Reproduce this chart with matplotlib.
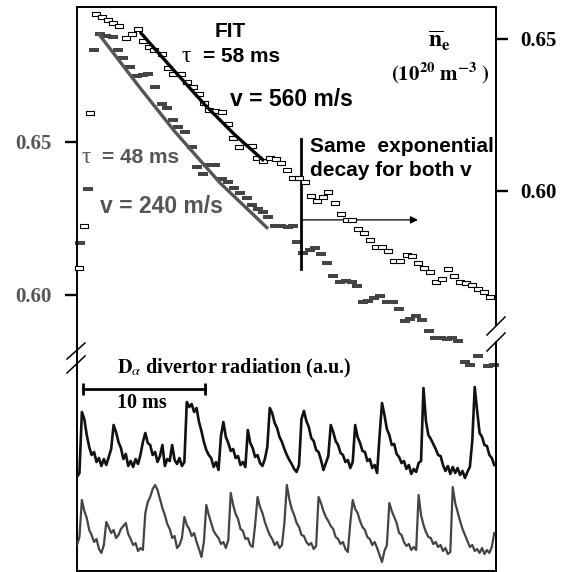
import numpy as np
import matplotlib
matplotlib.use("Agg")
import matplotlib.pyplot as plt
from matplotlib.lines import Line2D
from matplotlib.path import Path


# tempo em ms; densidade em 1e20 m^-3
t_aberto = [0.16, 0.57, 1.07, 1.56, 2.05, 2.54, 2.95, 3.44, 4.02, 4.51,
            5.00, 5.41, 5.90, 6.31, 6.97, 7.46, 7.87, 8.52, 9.02, 9.51,
            10.00, 10.41, 10.82, 11.31, 11.89, 12.38, 12.79, 13.28, 14.34, 14.75,
            15.25, 15.82, 16.31, 16.72, 17.21, 17.70, 18.20, 18.69, 19.18, 19.67,
            20.16, 20.57, 21.15, 21.64, 22.13, 22.54, 23.03, 23.52, 24.02, 24.51,
            25.00, 25.49, 25.98, 26.48, 27.05, 27.46, 27.95, 28.44, 28.93, 29.43,
            29.92, 30.41, 30.90, 31.39, 31.89, 32.38, 32.87, 33.36, 33.85]
ne_aberto = [0.5747, 0.5885, 0.6257, 0.6582, 0.6572, 0.6563, 0.6553, 0.6543, 0.6503, 0.6516,
             0.6533, 0.6493, 0.6474, 0.6464, 0.6451, 0.6405, 0.6385, 0.6385, 0.6359, 0.6342,
             0.6319, 0.6289, 0.6266, 0.6263, 0.6260, 0.6220, 0.6174, 0.6145, 0.6148, 0.6109,
             0.6099, 0.6109, 0.6105, 0.6092, 0.6069, 0.6043, 0.6043, 0.6030, 0.5983, 0.5967,
             0.5980, 0.5997, 0.5960, 0.5924, 0.5904, 0.5904, 0.5875, 0.5862, 0.5839, 0.5816,
             0.5816, 0.5803, 0.5770, 0.5770, 0.5789, 0.5786, 0.5763, 0.5747, 0.5733, 0.5701,
             0.5710, 0.5743, 0.5720, 0.5701, 0.5697, 0.5691, 0.5678, 0.5668, 0.5651]

t_cheio = [0.25, 0.90, 1.39, 1.89, 2.38, 2.95, 3.36, 3.77, 4.34, 4.92,
           5.41, 5.82, 6.39, 6.97, 7.38, 7.87, 8.28, 8.85, 9.43, 9.84,
           10.33, 10.74, 11.31, 11.89, 12.38, 12.87, 13.36, 13.93, 14.34, 14.84,
           15.25, 15.66, 16.23, 16.72, 17.30, 17.70, 18.03, 18.52, 19.10, 19.51,
           20.00, 20.49, 20.98, 21.56, 22.05, 22.54, 22.95, 23.44, 23.85, 24.34,
           24.84, 25.41, 25.90, 26.39, 26.89, 27.30, 27.79, 28.28, 28.85, 29.34,
           29.84, 30.33, 30.74, 31.23, 31.80, 32.21, 32.87, 33.69, 34.18]
ne_cheio = [0.6170, 0.6346, 0.6801, 0.6853, 0.6847, 0.6843, 0.6801, 0.6775, 0.6745, 0.6716,
            0.6719, 0.6722, 0.6680, 0.6624, 0.6611, 0.6572, 0.6549, 0.6533, 0.6484, 0.6418,
            0.6395, 0.6425, 0.6425, 0.6379, 0.6369, 0.6350, 0.6333, 0.6317, 0.6294, 0.6281,
            0.6271, 0.6255, 0.6225, 0.6225, 0.6222, 0.6225, 0.6173, 0.6137, 0.6147, 0.6153,
            0.6134, 0.6104, 0.6062, 0.6042, 0.6045, 0.6042, 0.6029, 0.5977, 0.5980, 0.5990,
            0.5996, 0.5977, 0.5977, 0.5954, 0.5915, 0.5921, 0.5931, 0.5918, 0.5882, 0.5859,
            0.5859, 0.5856, 0.5859, 0.5849, 0.5781, 0.5771, 0.5800, 0.5768, 0.5771]

# ajustes
t_fit_preto = [5.16, 7.62, 10.49, 12.95, 15.33]
ne_fit_preto = [0.6523, 0.6411, 0.6283, 0.6184, 0.6099]
t_fit_cinza = [1.72, 5.16, 8.03, 11.72, 15.66]
ne_fit_cinza = [0.6856, 0.6677, 0.6533, 0.6366, 0.6216]

# D-alpha (u.a.), amostras a cada 0.2 ms
DT_DALPHA = 0.2
dalpha_sup = [9.4, 9.8, 15.9, 15.2, 13.6, 12.4, 11.6, 11.9, 10.9, 11.3,
              10.5, 11.2, 10.6, 11.4, 12.2, 14.6, 13.9, 12.9, 12.3, 11.2,
              11.7, 10.5, 11.0, 10.4, 11.2, 10.7, 11.6, 12.9, 13.8, 12.8,
              12.6, 11.6, 11.9, 10.9, 11.5, 12.6, 10.5, 11.2, 11.0, 12.6,
              11.1, 10.7, 11.3, 10.5, 10.9, 16.9, 16.4, 16.7, 15.9, 16.3,
              14.9, 14.0, 12.9, 12.1, 11.6, 11.3, 10.4, 10.9, 10.1, 13.5,
              14.9, 13.4, 12.8, 12.0, 12.2, 11.3, 11.5, 10.6, 10.9, 10.4,
              14.1, 12.8, 12.3, 11.4, 11.6, 10.8, 10.5, 11.2, 12.4, 16.3,
              15.8, 14.8, 14.3, 13.4, 12.9, 12.2, 11.6, 11.1, 10.7, 10.2,
              9.9, 10.6, 15.2, 16.0, 15.0, 14.4, 13.3, 13.0, 12.1, 11.9,
              11.1, 10.1, 10.8, 11.5, 14.6, 13.9, 13.0, 12.6, 11.8, 11.6,
              10.9, 11.1, 10.3, 10.9, 14.6, 13.4, 12.8, 12.0, 11.9, 11.0,
              11.2, 10.3, 10.6, 9.8, 13.5, 16.8, 15.6, 14.2, 13.6, 12.6,
              12.7, 11.7, 11.4, 10.8, 11.0, 10.2, 10.6, 9.7, 10.2, 9.9,
              10.8, 11.0, 18.3, 15.0, 13.6, 13.2, 12.7, 12.2, 11.6, 11.5,
              10.6, 10.0, 10.5, 9.7, 10.4, 9.8, 10.3, 9.6, 10.0, 9.3,
              9.9, 10.4, 13.0, 18.4, 16.0, 13.8, 13.4, 12.6, 12.5, 11.6,
              11.3, 10.6]
dalpha_inf = [2.6, 3.4, 7.1, 6.0, 5.3, 4.1, 3.6, 2.9, 3.2, 2.2,
              1.8, 2.6, 4.9, 4.4, 3.8, 4.1, 3.3, 3.6, 4.2, 4.5,
              4.8, 3.7, 3.2, 2.6, 2.8, 2.0, 2.3, 2.1, 5.8, 6.9,
              7.4, 8.2, 8.6, 8.1, 7.2, 6.3, 5.6, 4.7, 4.2, 3.3,
              3.5, 2.3, 2.6, 3.3, 5.4, 4.6, 4.2, 3.5, 3.8, 2.9,
              2.2, 1.4, 2.9, 6.6, 5.6, 4.8, 4.0, 3.6, 3.3, 2.7,
              2.9, 2.3, 3.1, 7.8, 6.6, 5.7, 5.2, 4.2, 4.0, 3.2,
              3.3, 2.6, 2.4, 4.6, 7.4, 6.4, 5.8, 4.9, 4.2, 3.6,
              3.2, 2.6, 2.9, 2.3, 2.6, 4.8, 8.6, 7.2, 6.2, 5.6,
              4.8, 4.4, 3.6, 3.5, 2.9, 2.6, 2.8, 2.2, 2.5, 7.4,
              6.8, 6.0, 5.4, 5.0, 4.5, 4.2, 3.4, 3.2, 2.7, 2.9,
              2.2, 1.9, 4.8, 7.1, 6.2, 5.8, 5.0, 4.4, 4.1, 3.4,
              3.2, 2.6, 2.9, 2.3, 1.6, 0.9, 2.0, 2.6, 6.8, 6.0,
              5.4, 4.8, 3.8, 3.6, 2.9, 2.5, 2.7, 2.1, 2.4, 2.1,
              7.6, 5.6, 4.6, 3.9, 3.4, 3.3, 2.7, 2.9, 2.4, 2.6,
              2.0, 2.3, 1.7, 1.9, 8.4, 6.8, 5.9, 5.0, 4.2, 3.6,
              3.0, 2.4, 2.6, 2.0, 2.2, 1.8, 2.3, 1.7, 2.1, 1.8,
              2.4, 3.8]

ticks_esq = [0.60, 0.65]
ticks_dir = [0.60, 0.65]

T_CORTE = 18.34        # linha vertical "Same exponential decay"
T_SETA_FIM = 27.95
NE_SETA = 0.6245
BARRA_10MS = (0.49, 10.49)

CINZA = "#555555"
CINZA_PONTO = "#444444"
SERIF = "Liberation Serif"
SANS = "Liberation Sans"

W, H = 570, 572


def px(x, y):
    return x / W, 1 - y / H


def main() -> None:
    plt.rcParams["mathtext.fontset"] = "stix"
    fig = plt.figure(figsize=(W / 100, H / 100), dpi=100)

    x0, x1, y0, y1 = 77, 496, 7, 571
    pos = [x0 / W, 1 - y1 / H, (x1 - x0) / W, (y1 - y0) / H]
    ax = fig.add_axes(pos)
    ax_r = ax.twinx()
    ax_d = fig.add_axes(pos, frameon=False)

    tmax = (x1 - x0) / 12.2
    for a in (ax, ax_r, ax_d):
        a.set_xlim(0, tmax)
        a.set_xticks([])
    ax.set_ylim(0.5097, 0.6941)
    ax_r.set_ylim(0.475, 0.6605)
    ax_d.set_ylim(0, 56.4)
    ax_d.set_yticks([])

    ret_aberto = Path([(-1, -0.5), (1, -0.5), (1, 0.5), (-1, 0.5), (-1, -0.5)], closed=True)
    ret_cheio = Path([(-1, -0.4), (1, -0.4), (1, 0.4), (-1, 0.4), (-1, -0.4)], closed=True)

    ax.plot(t_cheio, ne_cheio, ls="none", marker=ret_cheio, ms=7.2,
            color=CINZA_PONTO, mew=0, clip_on=False)
    ax.plot(t_fit_cinza, ne_fit_cinza, color=CINZA, lw=2.4, solid_capstyle="butt")

    ax_r.plot(t_aberto, ne_aberto, ls="none", marker=ret_aberto, ms=6.2,
              mfc="white", mec="black", mew=0.8, clip_on=False)
    ax_r.plot(t_fit_preto, ne_fit_preto, color="black", lw=2.4, solid_capstyle="butt")

    # linha vertical e seta
    ax.plot([T_CORTE, T_CORTE], [0.6085, 0.651], color="black", lw=2)
    ax.annotate("", xy=(T_SETA_FIM, NE_SETA), xytext=(T_CORTE + 0.18, NE_SETA),
                arrowprops=dict(arrowstyle="-|>", color="black", lw=0.9,
                                mutation_scale=11, shrinkA=0, shrinkB=0))

    # D-alpha
    t_d = np.arange(len(dalpha_sup)) * DT_DALPHA
    ax_d.plot(t_d, dalpha_sup, color="#111111", lw=1.9)
    t_d2 = np.arange(len(dalpha_inf)) * DT_DALPHA
    ax_d.plot(t_d2, dalpha_inf, color="#444444", lw=1.6)
    ax_d.plot(list(BARRA_10MS), [18.2, 18.2], color="black", lw=2,
              marker="|", ms=9, mew=2)

    # eixos
    ax.set_yticks(ticks_esq)
    ax.set_yticklabels([f"{v:.2f}" for v in ticks_esq], fontfamily=SERIF,
                       fontweight="bold", fontsize=15, color=CINZA)
    ax.tick_params(axis="y", direction="out", length=9, width=1.7, pad=9,
                   color="black")
    ax_r.set_yticks(ticks_dir)
    ax_r.set_yticklabels([f"{v:.2f}" for v in ticks_dir], fontfamily=SERIF,
                         fontweight="bold", fontsize=15, color="black")
    ax_r.tick_params(axis="y", direction="out", length=8.5, width=1.7, pad=9,
                     color="black")
    for s in ("left", "top", "bottom"):
        ax.spines[s].set_linewidth(1.4)
    ax.spines["right"].set_visible(False)
    for s in ax_r.spines.values():
        s.set_visible(False)
    # eixo direito quebrado
    ax.plot([1, 1], [0, 0.406], transform=ax.transAxes, color="black",
            lw=1.4, clip_on=False)
    ax.plot([1, 1], [0.436, 1], transform=ax.transAxes, color="black",
            lw=1.4, clip_on=False)
    for (xa, ya, xb, yb) in [(67, 359, 85, 343), (67, 373, 85, 356),
                             (487, 335, 505, 317), (487, 351, 505, 333)]:
        (fa, ga), (fb, gb) = px(xa, ya), px(xb, yb)
        fig.add_artist(Line2D([fa, fb], [ga, gb], transform=fig.transFigure,
                              color="black", lw=1.1))

    # textos
    def texto(x, y, s, **kw):
        fx, fy = px(x, y)
        fig.text(fx, fy, s, ha="left", va="baseline", **kw)

    texto(215, 37, "FIT", family=SANS, weight="bold", size=15)
    texto(182, 62, "τ", family=SERIF, size=17)
    texto(203, 62, "= 58 ms", family=SANS, weight="bold", size=15)
    texto(230, 106, "v = 560 m/s", family=SANS, weight="bold", size=16.5)
    texto(82, 163, "τ", family=SERIF, size=17, color=CINZA)
    texto(102, 163, "= 48 ms", family=SANS, weight="bold", size=15, color=CINZA)
    texto(100, 213, "v = 240 m/s", family=SANS, weight="bold", size=16.5, color=CINZA)
    texto(310, 152, "Same  exponential", family=SANS, weight="bold", size=15)
    texto(310, 176, "decay for both v", family=SANS, weight="bold", size=15)
    texto(428, 48, r"$\overline{\mathbf{n}}_{\mathbf{e}}$", size=17)
    texto(391, 80, r"$\mathbf{(10^{\mathbf{20}}\ m^{\mathbf{-3}}\ )}$", size=15)
    texto(117, 373, r"$\mathbf{D}_{\alpha}$ divertor radiation (a.u.)",
          family=SERIF, weight="bold", size=14.5)
    texto(117, 408, "10 ms", family=SERIF, weight="bold", size=14.5)

    fig.savefig("out.png", dpi=100)
    plt.close(fig)


if __name__ == "__main__":
    main()
